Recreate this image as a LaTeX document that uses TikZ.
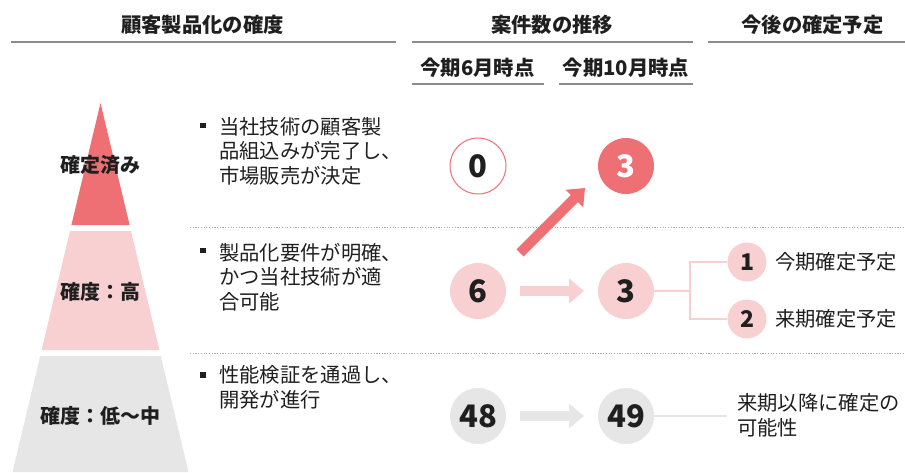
\documentclass[tikz,border=0pt]{standalone}
\usepackage{fontspec}
\setmainfont{Noto Sans CJK JP}
\usetikzlibrary{arrows.meta}
\definecolor{cred}{HTML}{EE7074}
\definecolor{cpink}{HTML}{F9D0D1}
\definecolor{cgray}{HTML}{E6E6E6}
\definecolor{hline}{HTML}{8C8C8C}
\definecolor{dotc}{HTML}{AAAAAA}
\definecolor{txt}{HTML}{1F1F1F}
\begin{document}
\begin{tikzpicture}[x=1pt,y=-1pt,
  head/.style={anchor=base, inner sep=0, text=txt, font=\fontsize{20.3}{22}\selectfont\bfseries},
  hrule/.style={draw=hline, line width=2pt},
  body/.style={anchor=base west, align=left, inner sep=0, text=txt, font=\fontsize{20.3}{24.5}\selectfont},
  plabel/.style={anchor=base, inner sep=0, text=txt, font=\fontsize{20}{22}\selectfont\bfseries},
  numc/.style={circle, minimum size=56pt, inner sep=0, text=txt, font=\fontsize{31}{32}\selectfont\bfseries},
  smallc/.style={circle, fill=cpink, minimum size=39pt, inner sep=0, text=txt, font=\fontsize{23}{24}\selectfont\bfseries},
  bul/.style={fill=txt, minimum size=5.5pt, inner sep=0},
  sep/.style={draw=dotc, line width=1pt, dash pattern=on 1.2pt off 1.5pt},
  bigarrow/.style={line width=10pt, -{Triangle[length=15pt,width=24pt]}},
  tree/.style={line width=1.5pt}
]
\useasboundingbox (0,0) rectangle (905,472);

% headers
\node[head] (h1) at (202.5,32) {顧客製品化の確度};
\node[head] (h2) at (552,32) {案件数の推移};
\node[head] (h3) at (812.5,32) {今後の確定予定};
\draw[hrule] (11,42) -- (396,42);
\draw[hrule] (412,42) -- (693,42);
\draw[hrule] (708,42) -- (905,42);
\node[head] (s6) at (477.5,75) {今期6月時点};
\node[head] (s10) at (626,75) {今期10月時点};
\draw[hrule] (412,84) -- (544,84);
\draw[hrule] (559,84) -- (693,84);

% pyramid
\fill[cred] (100.5,103) -- (129.6,225) -- (71.4,225) -- cycle;
\fill[cpink] (70,231) -- (131,231) -- (159.4,350) -- (41.6,350) -- cycle;
\fill[cgray] (40.2,356) -- (160.8,356) -- (188.5,472) -- (12.5,472) -- cycle;
\node[plabel] (p1) at (100.5,172) {確定済み};
\node[plabel] (p2) at (100.5,299) {確度：高};
\node[plabel] (p3) at (100.5,423) {確度：低～中};

% separators
\draw[sep] (190,227.5) -- (905,227.5);
\draw[sep] (190,353) -- (905,353);

% bullets (base anchor = baseline of last line)
\node[bul] (b1) at (203,125.5) {};
\node[body] (t1) at (219,183) {当社技術の顧客製\\品組込みが完了し、\\市場販売が決定};
\node[bul] (b2) at (203,250.5) {};
\node[body] (t2) at (219,309) {製品化要件が明確、\\かつ当社技術が適\\合可能};
\node[bul] (b3) at (203,375) {};
\node[body] (t3) at (219,407) {性能検証を通過し、\\開発が進行};

% circles
\node[numc, draw=cred, line width=1pt, fill=white] (c0) at (478,166) {0};
\node[numc, fill=cred, text=white] (c3a) at (626,166) {3};
\node[numc, fill=cpink] (c6) at (478,291) {6};
\node[numc, fill=cpink] (c3b) at (626,291) {3};
\node[numc, fill=cgray] (c48) at (478,416) {48};
\node[numc, fill=cgray] (c49) at (626,416) {49};

% arrows
\coordinate (r0) at (520,253);
\coordinate (r1) at (585,188);
\coordinate (k0) at (520,291);
\coordinate (k1) at (584,291);
\coordinate (g0) at (520,416);
\coordinate (g1) at (584,416);
\draw[bigarrow, cred] (r0) -- (r1);
\draw[bigarrow, cpink] (k0) -- (k1);
\draw[bigarrow, cgray] (g0) -- (g1);

% tree
\node[smallc] (n1) at (747,262) {1};
\node[smallc] (n2) at (747,319) {2};
\coordinate (br) at (690,291);
\draw[tree, cpink] (c3b) -- (br);
\draw[tree, cpink] (n1) -| (br) |- (n2);
\node[body] (l1) at (775,269.5) {今期確定予定};
\node[body] (l2) at (775,326.5) {来期確定予定};

% gray
\coordinate (gend) at (727,416);
\draw[tree, cgray] (c49) -- (gend);
\node[body] (l3) at (737,435) {来期以降に確定の\\可能性};
\end{tikzpicture}
\end{document}
